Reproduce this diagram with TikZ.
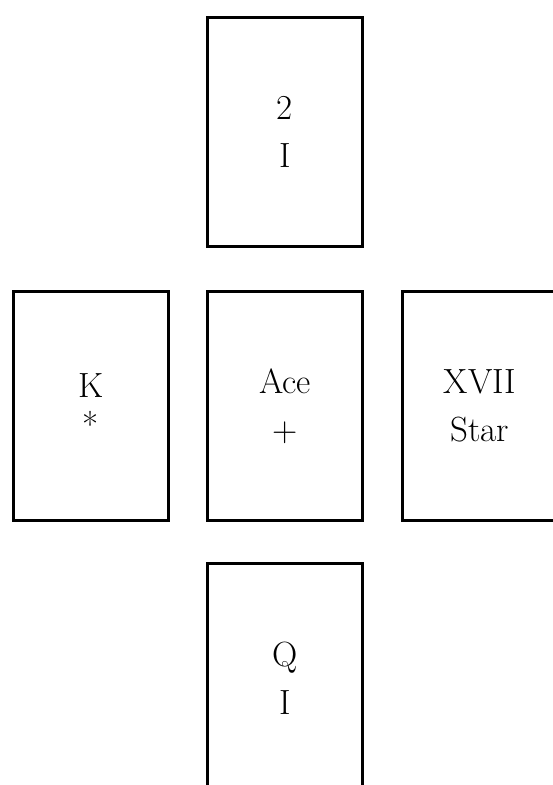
\documentclass[tikz,border=0pt]{standalone}
\usepackage{tikz}
\usetikzlibrary{positioning}
\tikzset{
  card/.style={draw=black,line width=3pt,rectangle,fill=white,align=center,
    minimum width=155pt,minimum height=229pt,inner sep=0pt,
    font=\fontsize{35}{48}\selectfont},
}

\begin{document}
\begin{tikzpicture}[x=1pt,y=1pt]
  \path[use as bounding box,fill=white] (0,0) rectangle (553,-785);
  % middle row
  \node[card] (ace) at (285,-406) {Ace\\+};
  \node[card,left=36pt of ace] (king) {K\\[-8pt]*};
  \node[card,right=37pt of ace] (star) {XVII\\Star};
  % top and bottom
  \node[card,above=42pt of ace] (two) {2\\I};
  \node[card,below=40pt of ace] (queen) {Q\\I};
\end{tikzpicture}
\end{document}
